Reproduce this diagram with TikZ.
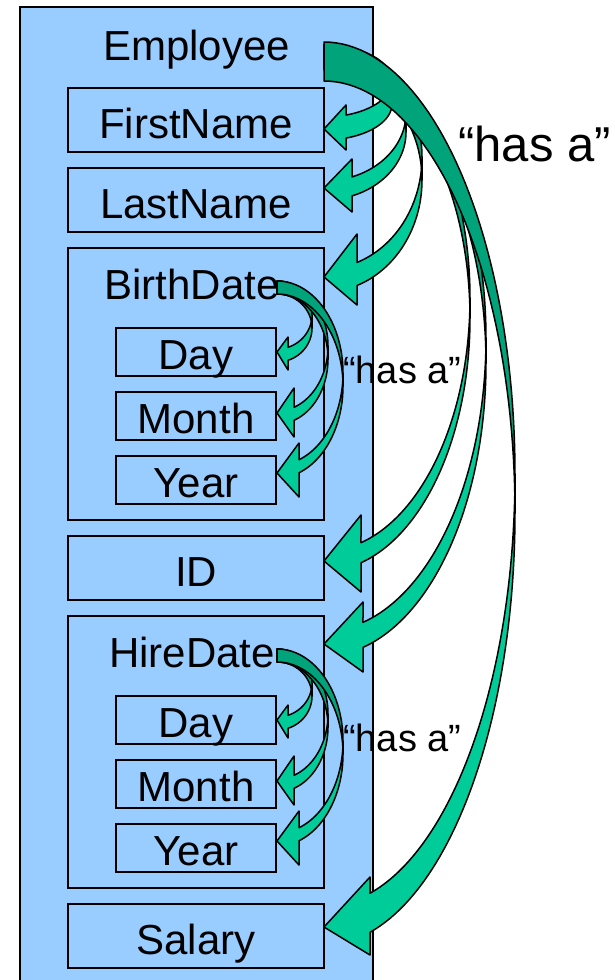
\documentclass[tikz,border=0pt]{standalone}
\usepackage{fontspec}
\setmainfont{Liberation Sans}
\definecolor{boxblue}{HTML}{99CCFF}
\definecolor{arrowlight}{HTML}{00CC99}
\definecolor{arrowdark}{HTML}{00A37A}
\tikzset{
  outerbox/.style={draw=black, fill=boxblue, line width=1.3pt, inner sep=0pt},
  fieldbox/.style={draw=black, fill=boxblue, line width=1.3pt, inner sep=0pt,
    minimum width=256pt, minimum height=64pt, text height=36pt, text depth=0pt,
    font=\fontsize{42}{50}\selectfont},
  groupbox/.style={fieldbox, minimum height=272pt},
  subbox/.style={fieldbox, minimum width=160pt, minimum height=48pt, text height=34pt},
  caption/.style={inner sep=0pt, anchor=base, font=\fontsize{42}{50}\selectfont},
  hasa/.style={inner sep=0pt, anchor=base west, font=\fontsize{38}{46}\selectfont},
  hasabig/.style={hasa, font=\fontsize{49}{58}\selectfont},
  arrowfront/.style={fill=arrowlight, draw=black, line width=1.5pt, line join=round},
  arrowback/.style={fill=arrowdark, draw=black, line width=1.5pt, line join=round},
}
% Curved block arrow pointing left: two offset half-ellipses centred on x = #1.
% #1 tip x, #2 top y, #3 x radius, #4 y radius, #5 shaft thickness,
% #6 head length, #7 upper barb y, #8 lower barb y, #9 tip y
\newcommand{\curvedblockarrow}[9]{%
  \pgfmathsetmacro\cbaCyA{#2+#4}%
  \pgfmathsetmacro\cbaCyB{#2+#4+#5}%
  \pgfmathsetmacro\cbaEnd{acos((#6)/(#3))}%
  \pgfmathsetmacro\cbaYB{\cbaCyB+(#4)*sin(\cbaEnd)}%
  \pgfmathsetmacro\cbaBase{#1+#6}%
  \filldraw[arrowfront]
    plot[domain=0:\cbaEnd, samples=50] ({#1+(#3)*cos(\x)},{\cbaCyA+(#4)*sin(\x)})
    -- (\cbaBase,#7) -- (#1,#9) -- (\cbaBase,#8) -- (\cbaBase,\cbaYB)
    -- plot[domain=\cbaEnd:0, samples=50] ({#1+(#3)*cos(\x)},{\cbaCyB+(#4)*sin(\x)})
    -- cycle;
  \filldraw[arrowback]
    plot[domain=-90:0, samples=50] ({#1+(#3)*cos(\x)},{\cbaCyA+(#4)*sin(\x)})
    -- plot[domain=0:-90, samples=50] ({#1+(#3)*cos(\x)},{\cbaCyB+(#4)*sin(\x)})
    -- cycle;
}
\begin{document}
\begin{tikzpicture}[x=1pt, y=-1pt]
  \useasboundingbox (0,0) rectangle (615,980);

  % Employee record with its fields
  \node[outerbox, minimum width=353pt, minimum height=985pt] (emp) at (196.5,499.5) {};
  \node[caption] (emptext) at (196.5,60) {Employee};

  \node[fieldbox] (fn) at (196,120) {FirstName};
  \node[fieldbox] (ln) at (196,200) {LastName};

  \node[groupbox] (bd) at (196,384) {};
  \node[caption] (bdtext) at (192,299) {BirthDate};
  \node[subbox] (bday) at (196,352) {Day};
  \node[subbox] (bmonth) at (196,416) {Month};
  \node[subbox] (byear) at (196,480) {Year};

  \node[fieldbox] (id) at (196,568) {ID};

  \node[groupbox] (hd) at (196,752) {};
  \node[caption] (hdtext) at (192,667) {HireDate};
  \node[subbox] (hday) at (196,720) {Day};
  \node[subbox] (hmonth) at (196,784) {Month};
  \node[subbox] (hyear) at (196,848) {Year};

  \node[fieldbox] (sal) at (196,936) {Salary};

  % "has a" arrows from Employee to its fields
  \curvedblockarrow{324}{45}{68}{36}{23}{22}{105}{150}{129}
  \curvedblockarrow{324}{45}{82}{68}{19}{28}{159}{212}{188}
  \curvedblockarrow{324}{45}{98}{112}{23}{33}{234}{305}{277}
  \curvedblockarrow{324}{45}{146}{253}{20}{37}{515}{592}{561}
  \curvedblockarrow{324}{45}{162}{293}{25}{39}{602}{672}{644}
  \curvedblockarrow{324}{42}{191}{432}{39}{46}{877}{955}{927}

  % "has a" arrows inside BirthDate
  \curvedblockarrow{277}{281}{35}{34}{13}{11}{337}{370}{352}
  \curvedblockarrow{277}{281}{51}{65}{13}{17}{388}{437}{413}
  \curvedblockarrow{277}{281}{66}{92}{13}{22}{443}{497}{473}

  % "has a" arrows inside HireDate
  \curvedblockarrow{277}{649}{35}{34}{13}{11}{705}{738}{720}
  \curvedblockarrow{277}{649}{51}{65}{13}{17}{756}{805}{781}
  \curvedblockarrow{277}{649}{66}{92}{13}{22}{811}{865}{841}

  % relation labels
  \node[hasabig] (rel) at (458,161) {“has a”};
  \node[hasa] (relbd) at (343,383) {“has a”};
  \node[hasa] (relhd) at (343,751) {“has a”};
\end{tikzpicture}
\end{document}
